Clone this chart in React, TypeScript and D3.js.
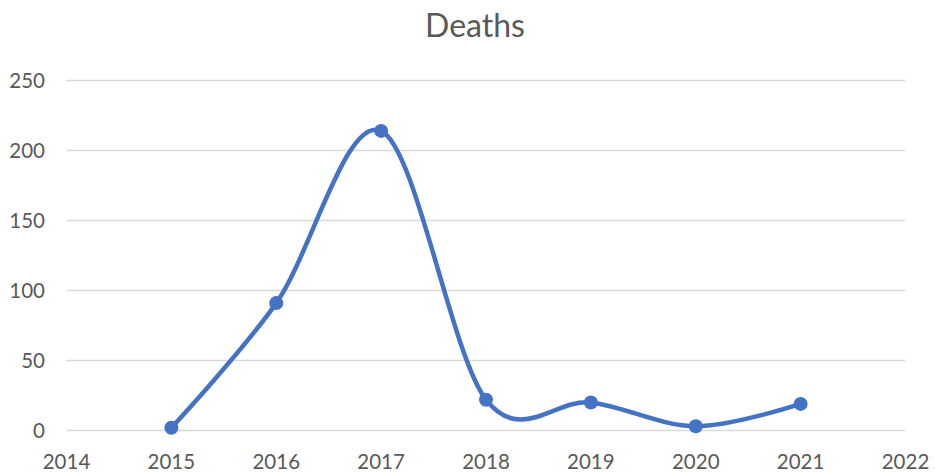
import React from "react";
import * as d3 from "d3";

const years = [2015, 2016, 2017, 2018, 2019, 2020, 2021];
const deaths = [2, 91, 214, 22, 20, 3, 19];
const xTicks = [2014, 2015, 2016, 2017, 2018, 2019, 2020, 2021, 2022];
const yTicks = [0, 50, 100, 150, 200, 250];

const W = 935;
const H = 476;
const FONT = "Lato, 'Open Sans', sans-serif";

export default function App() {
  const x = d3.scaleLinear().domain([2014, 2022]).range([66.5, 905.5]);
  const y = d3.scaleLinear().domain([0, 250]).range([430.5, 80.5]);
  const line = d3
    .line<number>()
    .x((_, i) => x(years[i]))
    .y((d) => y(d))
    .curve(d3.curveCardinal.tension(0));
  return (
    <svg width={W} height={H} style={{ position: "absolute", left: 0, top: 0, background: "#fff" }}>
      <rect width={W} height={H} fill="#fff" />
      <text x={475} y={37} textAnchor="middle" fontFamily={FONT} fontSize={32} fill="#595959">
        Deaths
      </text>
      {yTicks.map((t) => (
        <g key={t}>
          <line x1={x(2014)} x2={x(2022)} y1={y(t)} y2={y(t)} stroke="#D9D9D9" strokeWidth={1.5} />
          <text x={45} y={y(t)} dy="0.36em" textAnchor="end" fontFamily={FONT} fontSize={20.5} fill="#595959">
            {t}
          </text>
        </g>
      ))}
      {xTicks.map((t) => (
        <text key={t} x={x(t)} y={469} textAnchor="middle" fontFamily={FONT} fontSize={20.5} fill="#595959">
          {t}
        </text>
      ))}
      <path d={line(deaths) || ""} fill="none" stroke="#4472C4" strokeWidth={4.5} strokeLinecap="round" />
      {deaths.map((d, i) => (
        <circle key={i} cx={x(years[i])} cy={y(d)} r={7} fill="#4472C4" />
      ))}
    </svg>
  );
}
